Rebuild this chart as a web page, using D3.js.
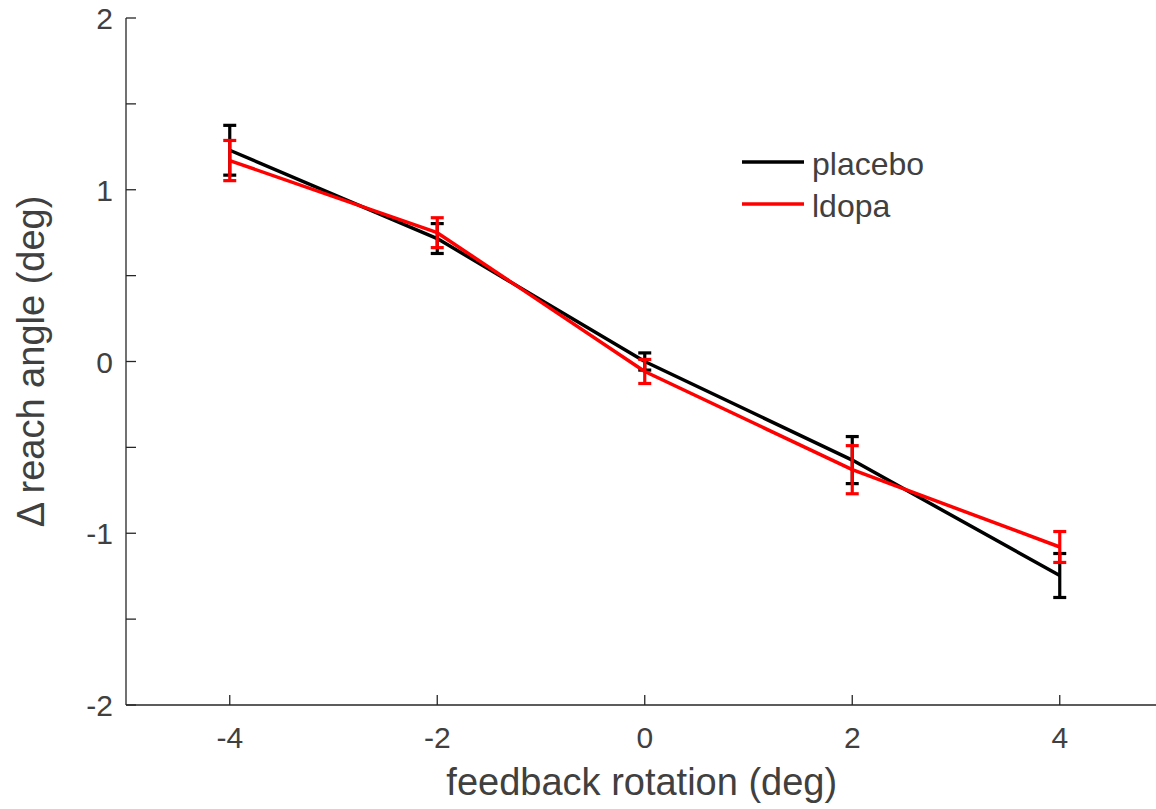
<!DOCTYPE html>
<html><head><meta charset="utf-8">
<script src="https://cdn.jsdelivr.net/npm/d3@7"></script>
<style>body{margin:0;background:#fff}svg{display:block}text{font-family:"Liberation Sans",Arial,Helvetica,sans-serif;fill:#404040}</style>
</head><body>
<svg id="c" width="1156" height="809"></svg>
<script>
const rotations = [-4, -2, 0, 2, 4];
const placeboMean = [1.23, 0.716, 0.0, -0.574, -1.246];
const placeboErr = [0.145, 0.087, 0.05, 0.137, 0.128];
const ldopaMean = [1.17, 0.75, -0.058, -0.63, -1.08];
const ldopaErr = [0.117, 0.087, 0.07, 0.14, 0.09];
const xTicks = [-4, -2, 0, 2, 4];
const yTicks = [-2, -1.5, -1, -0.5, 0, 0.5, 1, 1.5, 2];
const yLabels = [-2, -1, 0, 1, 2];

const svg = d3.select("#c");
const x = d3.scaleLinear().domain([-5, 5]).range([126, 1163.5]);
const y = d3.scaleLinear().domain([-2, 2]).range([705, 18]);
const axisColor = "#262626";

// axes lines
svg.append("line").attr("x1", x(-5)).attr("x2", 1156).attr("y1", y(-2)).attr("y2", y(-2)).attr("stroke", axisColor).attr("stroke-width", 1.3);
svg.append("line").attr("x1", x(-5)).attr("x2", x(-5)).attr("y1", y(-2)).attr("y2", y(2)).attr("stroke", axisColor).attr("stroke-width", 1.3);

// x ticks
svg.selectAll(".xt").data(xTicks).enter().append("line")
  .attr("x1", d => x(d)).attr("x2", d => x(d)).attr("y1", y(-2)).attr("y2", y(-2) - 10)
  .attr("stroke", axisColor).attr("stroke-width", 1.3);
svg.selectAll(".xl").data(xTicks).enter().append("text")
  .attr("x", d => x(d)).attr("y", 748).attr("text-anchor", "middle")
  .attr("font-size", 30).text(d => d);

// y ticks
svg.selectAll(".yt").data(yTicks).enter().append("line")
  .attr("x1", x(-5)).attr("x2", x(-5) + 10).attr("y1", d => y(d)).attr("y2", d => y(d))
  .attr("stroke", axisColor).attr("stroke-width", 1.3);
svg.selectAll(".yl").data(yLabels).enter().append("text")
  .attr("x", 113).attr("y", d => y(d) + 11).attr("text-anchor", "end")
  .attr("font-size", 30).text(d => d);

// labels
svg.append("text").attr("x", x(0) - 3).attr("y", 795).attr("text-anchor", "middle")
  .attr("font-size", 38).text("feedback rotation (deg)");
svg.append("text").attr("transform", `translate(44,${y(0)}) rotate(-90)`).attr("text-anchor", "middle")
  .attr("font-size", 38).text("\u0394 reach angle (deg)");

function drawSeries(means, errs, color) {
  const g = svg.append("g");
  const line = d3.line().x((d, i) => x(rotations[i])).y(d => y(d));
  g.append("path").datum(means).attr("d", line).attr("fill", "none")
    .attr("stroke", color).attr("stroke-width", 3.5).attr("stroke-linejoin", "round");
  rotations.forEach((r, i) => {
    const cx = x(r), top = y(means[i] + errs[i]), bot = y(means[i] - errs[i]);
    g.append("line").attr("x1", cx).attr("x2", cx).attr("y1", top).attr("y2", bot).attr("stroke", color).attr("stroke-width", 3.2);
    [top, bot].forEach(yy => g.append("line").attr("x1", cx - 6.5).attr("x2", cx + 6.5).attr("y1", yy).attr("y2", yy).attr("stroke", color).attr("stroke-width", 3.2));
  });
}
drawSeries(placeboMean, placeboErr, "#000000");
drawSeries(ldopaMean, ldopaErr, "#ff0000");

// legend
const legend = [{name: "placebo", color: "#000000"}, {name: "ldopa", color: "#ff0000"}];
legend.forEach((l, i) => {
  const ly = 162 + i * 42;
  svg.append("line").attr("x1", 742).attr("x2", 804).attr("y1", ly).attr("y2", ly).attr("stroke", l.color).attr("stroke-width", 3.5);
  svg.append("text").attr("x", 812).attr("y", ly + 13).attr("font-size", 32).text(l.name);
});
</script>
</body></html>
